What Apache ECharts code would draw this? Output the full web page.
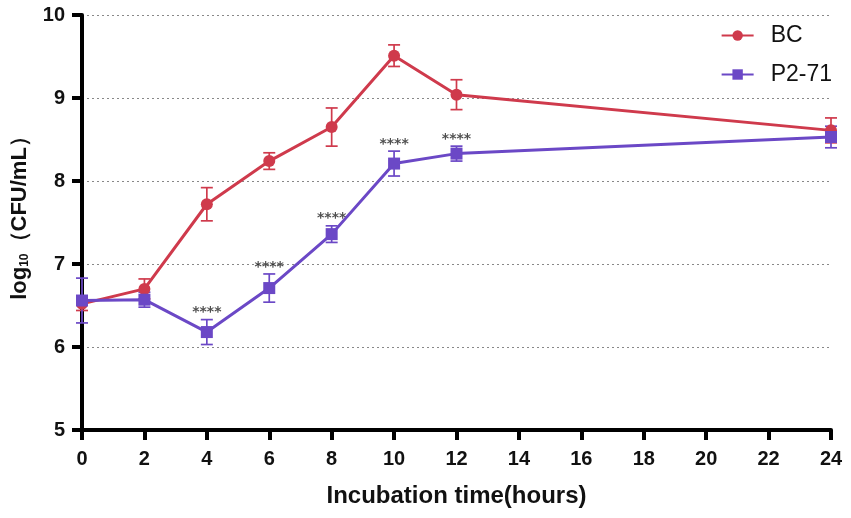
<!DOCTYPE html>
<html>
<head>
<meta charset="utf-8">
<title>Growth curve</title>
<script src="https://cdn.jsdelivr.net/npm/echarts@6/dist/echarts.min.js"></script>
<style>
  html, body { margin: 0; padding: 0; background: #fff; }
  #container { width: 851px; height: 518px; }
</style>
</head>
<body>
<div id="container"></div>
<script type="text/javascript">
    // time points (hours)
    var hours = [0, 2, 4, 6, 8, 10, 12, 24];
    // log10 CFU/mL, mean and error (SD)
    var bcMean = [6.52, 6.70, 7.72, 8.24, 8.65, 9.51, 9.04, 8.61];
    var bcErr  = [0.08, 0.12, 0.20, 0.10, 0.23, 0.13, 0.18, 0.15];
    var p2Mean = [6.56, 6.57, 6.18, 6.71, 7.36, 8.21, 8.33, 8.53];
    var p2Err  = [0.27, 0.09, 0.15, 0.17, 0.10, 0.15, 0.09, 0.13];
    // significance marks above P2-71
    var starHours = [4, 6, 8, 10, 12];
    var starText = '****';

    var red = '#cf3a4c';
    var purple = '#6b48c6';
    var font = 'Liberation Sans, Arial';

    var dom = document.getElementById('container');
    var myChart = echarts.init(dom);

    function pairs(xs, ys) {
        return xs.map(function (x, i) { return [x, ys[i]]; });
    }

    function errData(mean, err) {
        return hours.map(function (h, i) { return [h, mean[i] - err[i], mean[i] + err[i]]; });
    }

    function errorBars(color) {
        return function (params, api) {
            var x = api.value(0);
            var lo = api.coord([x, api.value(1)]);
            var hi = api.coord([x, api.value(2)]);
            var half = 6;
            var st = { stroke: color, lineWidth: 1.7 };
            return {
                type: 'group',
                children: [
                    { type: 'line', shape: { x1: lo[0], y1: lo[1], x2: hi[0], y2: hi[1] }, style: st },
                    { type: 'line', shape: { x1: lo[0] - half, y1: lo[1], x2: lo[0] + half, y2: lo[1] }, style: st },
                    { type: 'line', shape: { x1: hi[0] - half, y1: hi[1], x2: hi[0] + half, y2: hi[1] }, style: st }
                ]
            };
        };
    }

    // star labels sit just above the upper whisker
    var starData = starHours.map(function (h) {
        var i = hours.indexOf(h);
        return [h, p2Mean[i] + p2Err[i]];
    });

    var option = {
        animation: false,
        grid: { left: 82, right: 20, top: 15, bottom: 88 },
        legend: {
            orient: 'vertical',
            right: 14,
            top: 19,
            itemWidth: 32,
            itemHeight: 13,
            itemGap: 16,
            textStyle: { fontFamily: font, fontSize: 23, color: '#111', padding: [0, 0, 0, 12] },
            data: ['BC', 'P2-71']
        },
        xAxis: {
            type: 'value',
            min: 0,
            max: 24,
            interval: 2,
            name: 'Incubation time(hours)',
            nameLocation: 'middle',
            nameGap: 54,
            nameTextStyle: { fontFamily: font, fontSize: 24, fontWeight: 'bold', color: '#111' },
            axisLine: { lineStyle: { color: '#000', width: 4 } },
            axisTick: { length: 10, lineStyle: { color: '#000', width: 4 } },
            axisLabel: { margin: 19, fontFamily: font, fontSize: 20, fontWeight: 'bold', color: '#111' },
            splitLine: { show: false }
        },
        yAxis: {
            type: 'value',
            min: 5,
            max: 10,
            interval: 1,
            name: 'log{sub|10}（CFU/mL）',
            nameLocation: 'middle',
            nameRotate: 90,
            nameGap: 51,
            nameTextStyle: {
                fontFamily: font, fontSize: 22, fontWeight: 'bold', color: '#111',
                padding: [0, 0, 0, 20],
                rich: {
                    sub: { fontFamily: font, fontSize: 12, fontWeight: 'bold', color: '#111', verticalAlign: 'bottom', padding: [9, 0, 0, 0] }
                }
            },
            axisLine: { show: true, lineStyle: { color: '#000', width: 4 } },
            axisTick: { show: true, length: 10, lineStyle: { color: '#000', width: 4 } },
            axisLabel: { margin: 17, fontFamily: font, fontSize: 20, fontWeight: 'bold', color: '#111' },
            splitLine: { show: true, lineStyle: { color: '#888', width: 1.2, type: [2, 3] } }
        },
        series: [
            {
                name: 'BC',
                type: 'line',
                data: pairs(hours, bcMean),
                symbol: 'circle',
                symbolSize: 12,
                itemStyle: { color: red },
                lineStyle: { color: red, width: 3 },
                z: 3
            },
            {
                name: 'P2-71',
                type: 'line',
                data: pairs(hours, p2Mean),
                symbol: 'rect',
                symbolSize: 12,
                itemStyle: { color: purple },
                lineStyle: { color: purple, width: 3 },
                z: 4
            },
            {
                name: 'BC err',
                type: 'custom',
                renderItem: errorBars(red),
                data: errData(bcMean, bcErr),
                encode: { x: 0, y: [1, 2] },
                z: 2,
                silent: true
            },
            {
                name: 'P2-71 err',
                type: 'custom',
                renderItem: errorBars(purple),
                data: errData(p2Mean, p2Err),
                encode: { x: 0, y: [1, 2] },
                z: 2,
                silent: true
            },
            {
                name: 'stars',
                type: 'scatter',
                data: starData,
                symbolSize: 0,
                silent: true,
                label: {
                    show: true,
                    position: 'top',
                    distance: 0,
                    formatter: starText,
                    fontFamily: 'DejaVu Sans',
                    fontSize: 14,
                    fontWeight: 'bold',
                    color: '#222'
                }
            }
        ]
    };

    myChart.setOption(option);
</script>
</body>
</html>
